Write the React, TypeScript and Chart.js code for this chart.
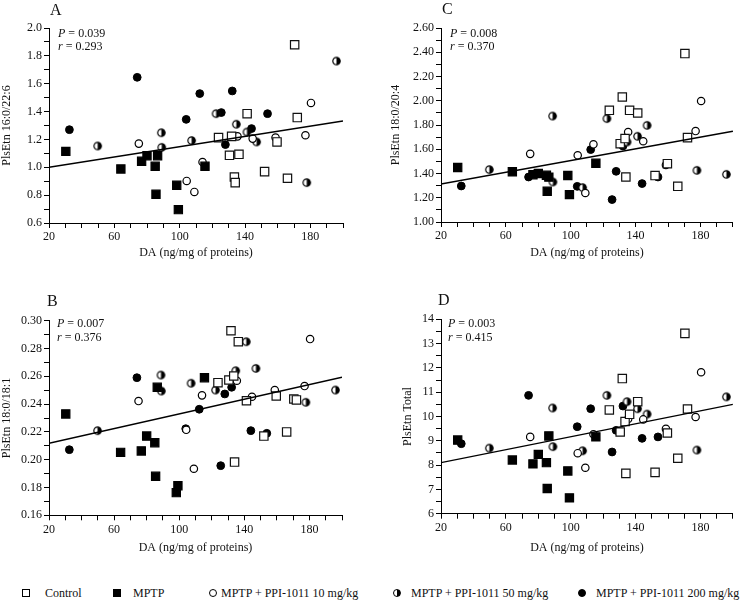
import React, { useEffect, useRef } from 'react';
import { Chart, registerables } from 'chart.js';
Chart.register(...registerables);

const FONT = "'Liberation Serif', 'Times New Roman', serif";

// ---- DA values (x) per group ----
const controlDA = [123.8, 130.5, 131.8, 133.5, 134, 136.3, 141.3, 152, 159.6, 166, 170.4, 172];
const mptpDA = [30.3, 64, 76.7, 80, 85, 85.5, 86.5, 98.2, 99.2, 115.5];
const ppi10DA = [75, 104.3, 109, 114, 135.4, 144.7, 158.7, 177, 180.4];
const ppi50DA = [49.8, 88.8, 89, 107.3, 122.3, 134.7, 141.2, 147.1, 177.8, 196];
const ppi200DA = [32.5, 74, 104, 112.3, 125.5, 128, 132.2, 144, 153.8];

// ---- Panel A: PlsEtn 16:0/22:6 ----
const aControl = [1.213, 1.086, 1.222, 0.93, 0.89, 1.093, 1.385, 0.969, 1.182, 0.921, 1.88, 1.357];
const aMptp = [1.114, 0.988, 1.043, 1.083, 1.007, 0.806, 1.083, 0.871, 0.696, 1.007];
const aPpi10 = [1.17, 0.902, 0.823, 1.038, 1.222, 1.206, 1.213, 1.23, 1.462];
const aPpi50 = [1.153, 1.248, 1.143, 1.192, 1.385, 1.309, 1.253, 1.182, 0.89, 1.763];
const aPpi200 = [1.27, 1.646, 1.344, 1.529, 1.393, 1.163, 1.548, 1.278, 1.385];
const aFit = [1.0, 1.332];

// ---- Panel B: PlsEtn 18:0/18:1 ----
const bControl = [0.2554, 0.2573, 0.2928, 0.2602, 0.1983, 0.2849, 0.2424, 0.217, 0.2458, 0.22, 0.2437, 0.243];
const bMptp = [0.2329, 0.2053, 0.2063, 0.217, 0.2122, 0.1881, 0.2521, 0.1763, 0.1813, 0.259];
const bPpi10 = [0.2422, 0.2215, 0.1935, 0.2463, 0.2568, 0.2453, 0.2501, 0.253, 0.2868];
const bPpi50 = [0.2209, 0.2609, 0.2494, 0.255, 0.2501, 0.264, 0.2849, 0.2657, 0.2413, 0.2501];
const bPpi200 = [0.2072, 0.259, 0.2223, 0.2363, 0.1957, 0.2473, 0.2521, 0.2209, 0.219];
const bFit = [0.2118, 0.2593];

// ---- Panel C: PlsEtn 18:0/20:4 ----
const cControl = [1.921, 1.646, 2.031, 1.688, 1.371, 1.921, 1.899, 1.383, 1.481, 1.294, 2.389, 1.696];
const cMptp = [1.449, 1.414, 1.39, 1.4, 1.385, 1.253, 1.37, 1.383, 1.226, 1.484];
const cPpi10 = [1.562, 1.55, 1.239, 1.641, 1.742, 1.666, 1.47, 1.75, 1.998];
const cPpi50 = [1.432, 1.874, 1.33, 1.284, 1.853, 1.66, 1.707, 1.797, 1.426, 1.393];
const cPpi200 = [1.297, 1.371, 1.294, 1.597, 1.185, 1.418, 1.627, 1.317, 1.371];
const cFit = [1.313, 1.748];

// ---- Panel D: PlsEtn Total ----
const dControl = [10.27, 9.36, 11.56, 9.79, 7.66, 10.09, 10.61, 7.7, 9.32, 8.28, 13.42, 10.31];
const dMptp = [9.03, 8.21, 8.05, 8.44, 8.1, 7.04, 9.2, 7.76, 6.65, 9.16];
const dPpi10 = [9.16, 8.49, 7.89, 9.27, 9.9, 9.88, 9.49, 9.98, 11.82];
const dPpi50 = [8.7, 10.35, 8.76, 8.59, 10.87, 10.61, 10.32, 10.1, 8.62, 10.81];
const dPpi200 = [8.88, 10.87, 9.58, 10.32, 8.54, 9.43, 10.43, 9.1, 9.16];
const dFit = [8.1, 10.5];

// ---- tick labels ----
const xTickLabels = ['20', '60', '100', '140', '180'];
const yTickLabelsA = ['0.6', '0.8', '1.0', '1.2', '1.4', '1.6', '1.8', '2.0'];
const yTickLabelsB = ['0.16', '0.18', '0.20', '0.22', '0.24', '0.26', '0.28', '0.30'];
const yTickLabelsC = ['1.00', '1.20', '1.40', '1.60', '1.80', '2.00', '2.20', '2.40', '2.60'];
const yTickLabelsD = ['6', '7', '8', '9', '10', '11', '12', '13', '14'];

const legendLabels = ['Control', 'MPTP', 'MPTP + PPI-1011 10 mg/kg', 'MPTP + PPI-1011 50 mg/kg', 'MPTP + PPI-1011 200 mg/kg'];
const xTitle = 'DA (ng/mg of proteins)';

function makeHalfImage() {
  const c = document.createElement('canvas');
  c.width = 11;
  c.height = 11;
  const g = c.getContext('2d')!;
  const r = 3.7;
  g.beginPath();
  g.arc(5.5, 5.5, r, 0, 2 * Math.PI);
  g.fillStyle = '#fff';
  g.fill();
  g.beginPath();
  g.moveTo(5.5, 5.5);
  g.arc(5.5, 5.5, r, -Math.PI / 2, Math.PI / 2);
  g.closePath();
  g.fillStyle = '#000';
  g.fill();
  g.beginPath();
  g.arc(5.5, 5.5, r, 0, 2 * Math.PI);
  g.lineWidth = 1.2;
  g.strokeStyle = '#000';
  g.stroke();
  return c;
}

type PanelDef = {
  left: number; top: number; width: number; height: number;
  pad: { left: number; top: number; right: number };
  yW: number; xH: number; xTitlePad: number;
  yMin: number; yMax: number; yStep: number; yDec: number; yLabels: string[];
  yTitle: string; fit: number[];
  ys: number[][];
};

const panels: PanelDef[] = [
  { left: 0, top: 0, width: 370, height: 270, pad: { left: 0, top: 28, right: 27 }, yW: 49, xH: 47, xTitlePad: 9.8,
    yMin: 0.6, yMax: 2.0, yStep: 0.1, yDec: 1, yLabels: yTickLabelsA, yTitle: 'PlsEtn 16:0/22:6', fit: aFit,
    ys: [aControl, aMptp, aPpi10, aPpi50, aPpi200] },
  { left: 370, top: 0, width: 370, height: 270, pad: { left: 19, top: 28, right: 6 }, yW: 52, xH: 48, xTitlePad: 9.8,
    yMin: 1.0, yMax: 2.6, yStep: 0.1, yDec: 2, yLabels: yTickLabelsC, yTitle: 'PlsEtn 18:0/20:4', fit: cFit,
    ys: [cControl, cMptp, cPpi10, cPpi50, cPpi200] },
  { left: 0, top: 270, width: 370, height: 285, pad: { left: 0, top: 50.7, right: 28 }, yW: 49, xH: 39.7, xTitlePad: 0,
    yMin: 0.16, yMax: 0.30, yStep: 0.01, yDec: 2, yLabels: yTickLabelsB, yTitle: 'PlsEtn 18:0/18:1', fit: bFit,
    ys: [bControl, bMptp, bPpi10, bPpi50, bPpi200] },
  { left: 370, top: 270, width: 370, height: 285, pad: { left: 30.8, top: 49.3, right: 7 }, yW: 40.2, xH: 41.3, xTitlePad: 0,
    yMin: 6, yMax: 14, yStep: 0.5, yDec: 0, yLabels: yTickLabelsD, yTitle: 'PlsEtn Total', fit: dFit,
    ys: [dControl, dMptp, dPpi10, dPpi50, dPpi200] },
];

const groupDA = [controlDA, mptpDA, ppi10DA, ppi50DA, ppi200DA];

function buildConfig(p: PanelDef, half: HTMLCanvasElement): any {
  const pts = (i: number) => groupDA[i].map((x, k) => ({ x, y: p.ys[i][k] }));
  const tickFont = { family: FONT, size: 12 };
  return {
    type: 'scatter',
    data: {
      datasets: [
        { type: 'line', data: [{ x: 20, y: p.fit[0] }, { x: 200, y: p.fit[1] }], borderColor: '#000', borderWidth: 1.4, pointRadius: 0, fill: false },
        { data: pts(0), pointStyle: 'rect', radius: 5.9, backgroundColor: '#fff', borderColor: '#111', borderWidth: 1.2 },
        { data: pts(1), pointStyle: 'rect', radius: 5.8, backgroundColor: '#000', borderColor: '#000', borderWidth: 1.2 },
        { data: pts(2), pointStyle: 'circle', radius: 3.7, backgroundColor: '#fff', borderColor: '#000', borderWidth: 1.2 },
        { data: pts(3), pointStyle: half, radius: 4, backgroundColor: '#000', borderColor: '#000' },
        { data: pts(4), pointStyle: 'circle', radius: 3.9, backgroundColor: '#000', borderColor: '#000', borderWidth: 1 },
      ],
    },
    options: {
      animation: false,
      responsive: false,
      maintainAspectRatio: false,
      layout: { padding: { left: p.pad.left, top: p.pad.top, right: p.pad.right, bottom: 0 } },
      plugins: { legend: { display: false }, tooltip: { enabled: false } },
      scales: {
        x: {
          type: 'linear', position: 'bottom', min: 20, max: 200,
          ticks: {
            stepSize: 10, autoSkip: false, maxRotation: 0, color: '#111', font: tickFont, padding: 2,
            callback: (v: number) => (xTickLabels.includes(String(Math.round(v))) ? String(Math.round(v)) : ''),
          },
          grid: { drawOnChartArea: false, drawTicks: true, tickLength: 5, color: '#000', tickWidth: 1 },
          border: { display: true, color: '#000', width: 1 },
          title: { display: true, text: xTitle, color: '#111', font: { family: FONT, size: 12 }, padding: { top: 0, bottom: p.xTitlePad } },
          afterFit: (s: any) => { s.height = p.xH; },
        },
        y: {
          type: 'linear', position: 'left', min: p.yMin, max: p.yMax,
          ticks: {
            stepSize: p.yStep, autoSkip: false, color: '#111', font: tickFont, padding: 2,
            callback: (v: number) => { const t = v.toFixed(p.yDec); return p.yLabels.includes(t) && Math.abs(parseFloat(t) - v) < 1e-6 ? t : ''; },
          },
          grid: { drawOnChartArea: false, drawTicks: true, tickLength: 5, color: '#000', tickWidth: 1 },
          border: { display: true, color: '#000', width: 1 },
          title: { display: true, text: p.yTitle, color: '#111', font: { family: FONT, size: 12 }, padding: { top: 0, bottom: 0 } },
          afterFit: (s: any) => { s.width = p.yW; },
        },
      },
    },
  };
}

const letters = [
  { t: 'A', left: 50, top: 1.6 },
  { t: 'C', left: 442, top: 0.6 },
  { t: 'B', left: 47, top: 292.6 },
  { t: 'D', left: 438, top: 291.6 },
];

const stats = [
  { p: '0.039', r: '0.293', left: 58, top: 26.6 },
  { p: '0.008', r: '0.370', left: 450, top: 26.6 },
  { p: '0.007', r: '0.376', left: 57, top: 317.2 },
  { p: '0.003', r: '0.415', left: 448, top: 317.2 },
];

const legendPos = [
  { cx: 26.3, tx: 45 },
  { cx: 117, tx: 133 },
  { cx: 212.7, tx: 221 },
  { cx: 397, tx: 411 },
  { cx: 582, tx: 596 },
];

function LegendMarker({ kind, cx }: { kind: number; cx: number }) {
  const base: React.CSSProperties = { position: 'absolute', boxSizing: 'border-box', top: 592.5 - 4, left: cx - 4, width: 8, height: 8, border: '1.3px solid #000' };
  if (kind === 0) return <div style={{ ...base, background: '#fff' }} />;
  if (kind === 1) return <div style={{ ...base, background: '#000' }} />;
  if (kind === 2) return <div style={{ ...base, borderRadius: '50%', background: '#fff', border: '1.6px solid #000' }} />;
  if (kind === 3) return <div style={{ ...base, borderRadius: '50%', background: 'linear-gradient(to right, #fff 50%, #000 50%)' }} />;
  return <div style={{ ...base, borderRadius: '50%', background: '#000' }} />;
}

export default function App() {
  const refs = [useRef<HTMLCanvasElement>(null), useRef<HTMLCanvasElement>(null), useRef<HTMLCanvasElement>(null), useRef<HTMLCanvasElement>(null)];
  useEffect(() => {
    const half = makeHalfImage();
    const charts = panels.map((p, i) => new Chart(refs[i].current!, buildConfig(p, half)));
    return () => charts.forEach((c) => c.destroy());
  }, []);

  const txt: React.CSSProperties = { position: 'absolute', fontFamily: FONT, color: '#111', whiteSpace: 'nowrap' };

  return (
    <div style={{ position: 'fixed', left: 0, top: 0, width: 740, height: 601, background: '#fff', overflow: 'hidden' }}>
      {panels.map((p, i) => (
        <canvas key={i} ref={refs[i]} width={p.width} height={p.height}
          style={{ position: 'absolute', left: p.left, top: p.top, width: p.width, height: p.height }} />
      ))}
      {letters.map((l) => (
        <div key={l.t} style={{ ...txt, left: l.left, top: l.top, fontSize: 16, lineHeight: '16px' }}>{l.t}</div>
      ))}
      {stats.map((s, i) => (
        <React.Fragment key={i}>
          <div style={{ ...txt, left: s.left, top: s.top, fontSize: 12, lineHeight: '12px' }}><i>P</i> = {s.p}</div>
          <div style={{ ...txt, left: s.left, top: s.top + 13.6, fontSize: 12, lineHeight: '12px' }}><i>r</i> = {s.r}</div>
        </React.Fragment>
      ))}
      {legendPos.map((lp, i) => (
        <React.Fragment key={'lg' + i}>
          <LegendMarker kind={i} cx={lp.cx} />
          <div style={{ ...txt, left: lp.tx, top: 587, fontSize: 12, lineHeight: '12px' }}>{legendLabels[i]}</div>
        </React.Fragment>
      ))}
    </div>
  );
}
